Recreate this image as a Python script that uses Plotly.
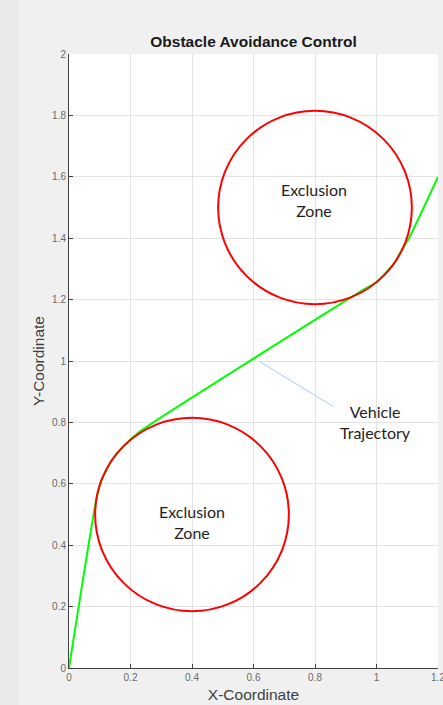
import plotly.graph_objects as go

# trajectory waypoints
traj_x = [0.0, 0.089, 0.104, 0.142, 0.185, 0.23, 0.946, 1.002, 1.058, 1.085, 1.103, 1.2]
traj_y = [0.0, 0.550, 0.608, 0.681, 0.730, 0.77, 1.225, 1.259, 1.319, 1.367, 1.395, 1.6]

# exclusion zones: centres and radius
zone_x = [0.4, 0.8]
zone_y = [0.5, 1.5]
zone_r = [0.315, 0.315]

x_ticks = [0, 0.2, 0.4, 0.6, 0.8, 1, 1.2]
y_ticks = [0, 0.2, 0.4, 0.6, 0.8, 1, 1.2, 1.4, 1.6, 1.8, 2]

fig = go.Figure()

fig.add_trace(go.Scatter(
    x=traj_x, y=traj_y,
    mode='lines',
    line=dict(color='#00ff00', width=2, shape='spline', smoothing=0.6),
    hoverinfo='skip',
    showlegend=False
))

shapes = [
    # slightly darker strip at the far left of the window
    dict(type='rect', xref='paper', yref='paper', x0=-69/369, x1=-50/369, y0=-37/614, y1=1+54/614,
         fillcolor='#eaeaea', line=dict(width=0), layer='below'),
]
for cx, cy, r in zip(zone_x, zone_y, zone_r):
    shapes.append(dict(type='circle', xref='x', yref='y',
                       x0=cx - r, x1=cx + r, y0=cy - r, y1=cy + r,
                       line=dict(color='#ff0000', width=2)))

# pointer line for the trajectory label
shapes.append(dict(type='line', xref='x', yref='y', x0=0.62, y0=0.998, x1=0.861, y1=0.851,
                   line=dict(color='#a9c9e8', width=1)))

label_font = dict(family='Lato, Open Sans, sans-serif', size=16, color='#1e1e1e')
annotations = [
    dict(x=0.4, y=0.475, text='Exclusion<br>Zone'),
    dict(x=0.797, y=1.525, text='Exclusion<br>Zone'),
    dict(x=0.998, y=0.80, text='Vehicle<br>Trajectory'),
]
for a in annotations:
    a.update(xref='x', yref='y', showarrow=False, font=label_font, align='center')

fig.update_layout(
    width=443, height=705,
    margin=dict(l=69, r=5, t=54, b=37),
    paper_bgcolor='#f0f0f0',
    plot_bgcolor='#ffffff',
    shapes=shapes,
    annotations=annotations,
    title=dict(text='<b>Obstacle Avoidance Control</b>', x=253.5/443, xanchor='center',
               y=1 - 42/705, yanchor='middle',
               font=dict(family='Arial, Liberation Sans, sans-serif', size=15.5, color='#1a1a1a')),
    font=dict(family='Arial, Liberation Sans, sans-serif'),
)

axis_common = dict(
    showgrid=True, gridcolor='#e3e3e3', gridwidth=1,
    zeroline=False,
    showline=True, linecolor='#404040', linewidth=1,
    ticks='inside', ticklen=4, tickcolor='#404040',
    tickfont=dict(size=10, color='#6a6a6a'),
    ticklabeloverflow='allow',
    automargin=False,
)

fig.update_xaxes(
    range=[0, 1.2], tickvals=x_ticks, ticktext=[str(v) for v in x_ticks],
    title=dict(text='X-Coordinate', font=dict(size=15.5, color='#404040'), standoff=7),
    **axis_common
)
fig.update_yaxes(
    range=[0, 2], tickvals=y_ticks, ticktext=[str(v) for v in y_ticks],
    title=dict(text='Y-Coordinate', font=dict(size=15.5, color='#404040'), standoff=3),
    **axis_common
)

fig.write_html("out.html", config={'displayModeBar': False},
               post_script="document.body.style.margin='0';document.body.style.overflow='hidden';")
